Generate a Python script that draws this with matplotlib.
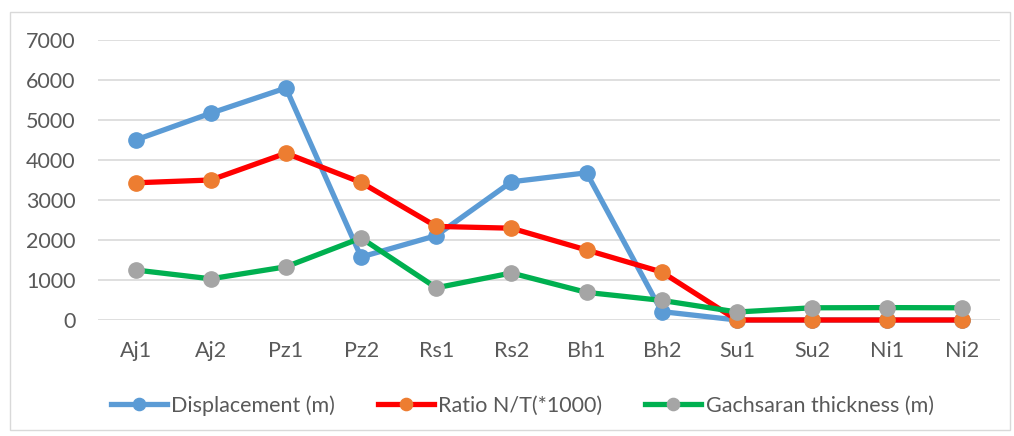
import matplotlib.pyplot as plt
from matplotlib.patches import Rectangle

plt.rcParams['font.family'] = ['Lato', 'DejaVu Sans']

# %% data
wells = ['Aj1', 'Aj2', 'Pz1', 'Pz2', 'Rs1', 'Rs2', 'Bh1', 'Bh2', 'Su1', 'Su2', 'Ni1', 'Ni2']
displacement = [4500, 5170, 5800, 1575, 2110, 3455, 3680, 210, 0, 0, 0, 0]
ratio_nt = [3430, 3500, 4170, 3440, 2340, 2295, 1750, 1200, 0, 0, 0, 0]
gachsaran = [1250, 1030, 1330, 2050, 805, 1175, 690, 490, 200, 305, 310, 305]

# %% plot
fig = plt.figure(figsize=(10.14, 4.36), dpi=100)
ax = fig.add_axes([98/1014, 1 - 320/436, 902/1014, 280/436])

x = range(len(wells))
ax.plot(x, displacement, color='#5B9BD5', lw=3.8, marker='o', ms=11,
        mfc='#5B9BD5', mec='#5B9BD5', clip_on=False, label='Displacement (m)')
ax.plot(x, ratio_nt, color='#FF0000', lw=3.8, marker='o', ms=11,
        mfc='#ED7D31', mec='#ED7D31', clip_on=False, label='Ratio N/T(*1000)')
ax.plot(x, gachsaran, color='#00B050', lw=3.8, marker='o', ms=11,
        mfc='#A5A5A5', mec='#A5A5A5', clip_on=False, label='Gachsaran thickness (m)')

ax.set_xlim(-0.5, len(wells) - 0.5)
ax.set_ylim(0, 7000)
ax.set_yticks(range(0, 7001, 1000))
ax.set_xticks(list(x))
ax.set_xticklabels(wells)
ax.grid(axis='y', color='#D9D9D9', lw=1.2)
ax.set_axisbelow(True)
for s in ax.spines.values():
    s.set_visible(False)
ax.tick_params(length=0, labelsize=15.5, labelcolor='#595959', pad=15)
ax.tick_params(axis='y', pad=16)

fig.legend(loc='center', bbox_to_anchor=(0.515, 0.07), ncol=3, frameon=False,
           fontsize=15.5, labelcolor='#595959', handlelength=2.6,
           handletextpad=0.2, columnspacing=2.0, markerscale=0.8)

# chart border
fig.patches.append(Rectangle((10/1014, 6/436), 1000/1014, 418/436,
                             transform=fig.transFigure, fill=False,
                             ec='#D9D9D9', lw=1))

fig.savefig('out.png', dpi=100)
